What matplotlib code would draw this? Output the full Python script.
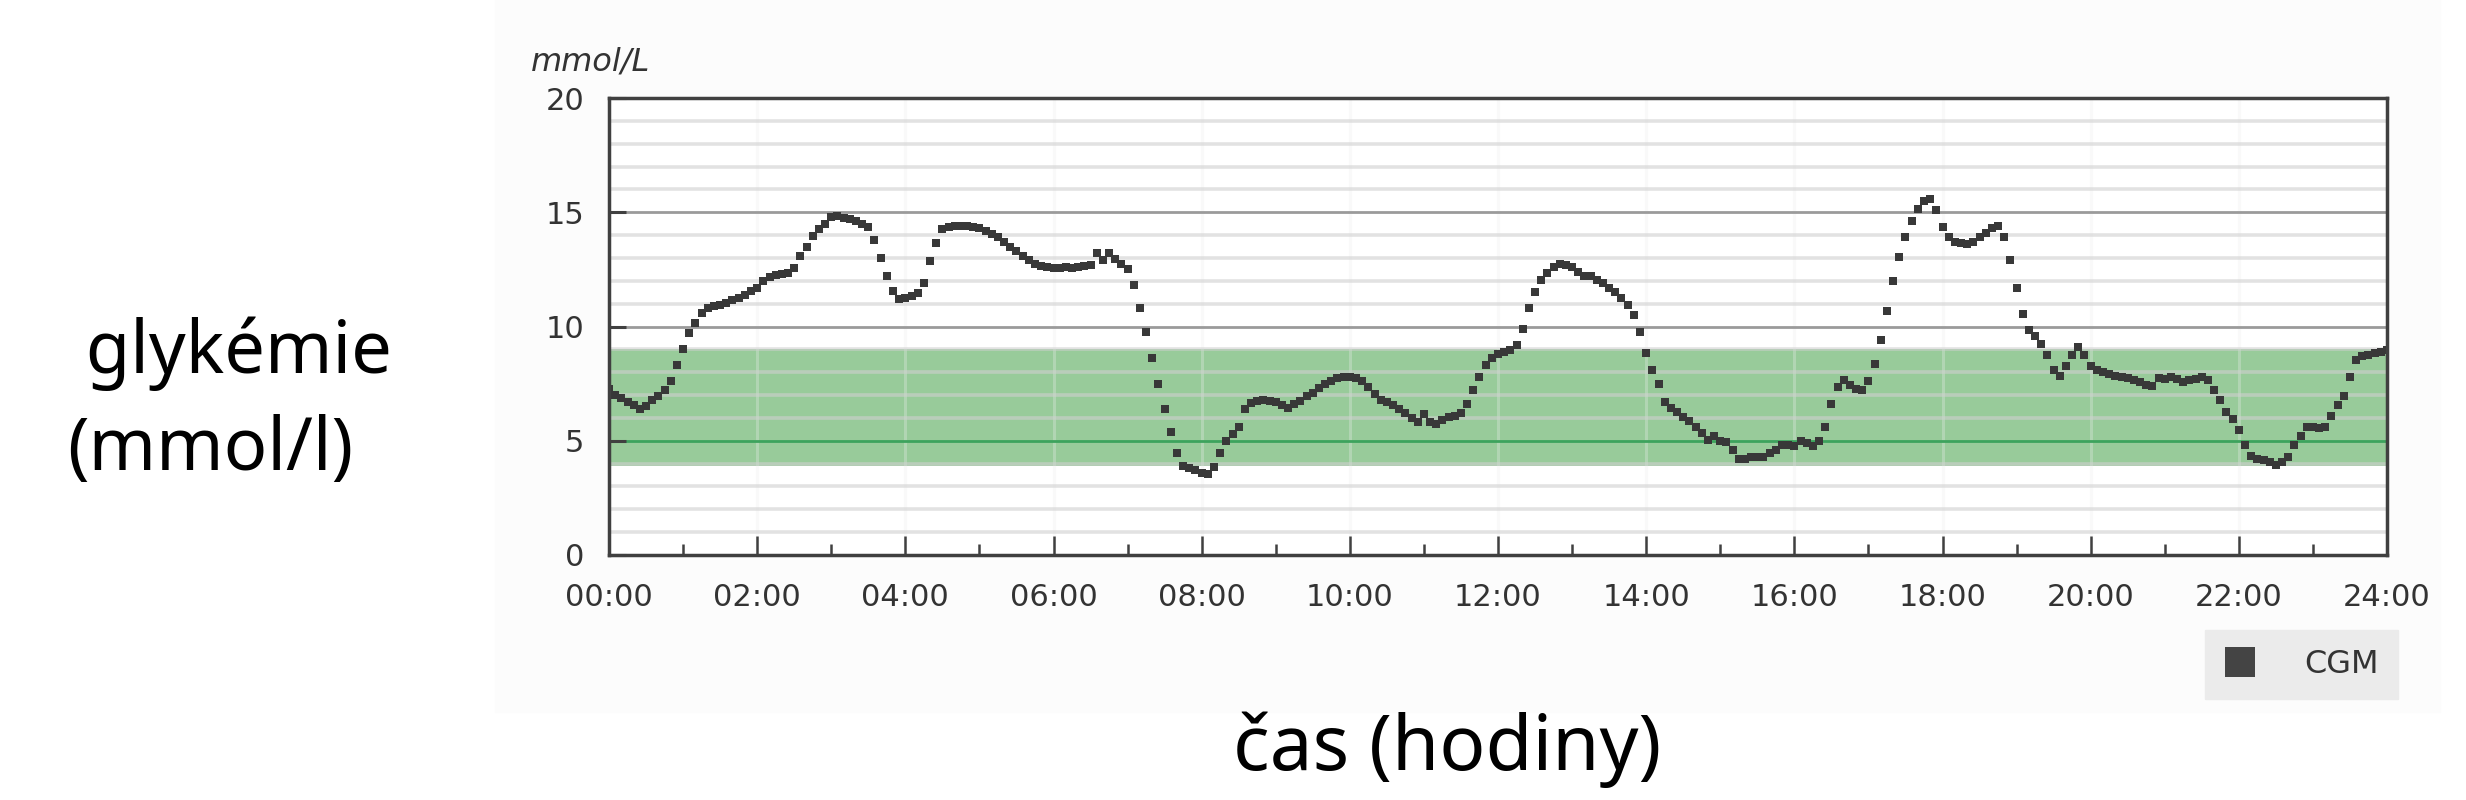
import numpy as np
import matplotlib
matplotlib.use("Agg")
import matplotlib.pyplot as plt
from matplotlib.lines import Line2D
from matplotlib.patches import Rectangle

# CGM readings, one row per hour, every 5 minutes (mmol/l)
glucose = [
    7.25, 7.0, 6.85, 6.7, 6.55, 6.4, 6.5, 6.8, 6.95, 7.2, 7.6, 8.3,          # 00
    9.0, 9.7, 10.15, 10.6, 10.8, 10.9, 10.95, 11.05, 11.15, 11.25, 11.4, 11.55,  # 01
    11.7, 12.0, 12.15, 12.25, 12.3, 12.35, 12.55, 13.1, 13.5, 13.95, 14.25, 14.5,  # 02
    14.8, 14.85, 14.75, 14.7, 14.6, 14.5, 14.35, 13.8, 13.0, 12.2, 11.55, 11.2,   # 03
    11.25, 11.35, 11.45, 11.9, 12.85, 13.65, 14.25, 14.35, 14.4, 14.4, 14.4, 14.35,  # 04
    14.3, 14.2, 14.05, 13.9, 13.7, 13.5, 13.3, 13.1, 12.9, 12.75, 12.65, 12.6,  # 05
    12.55, 12.55, 12.6, 12.55, 12.6, 12.65, 12.7, 13.2, 12.9, 13.2, 12.95, 12.75,  # 06
    12.5, 11.8, 10.8, 9.75, 8.6, 7.5, 6.4, 5.4, 4.45, 3.9, 3.8, 3.7,           # 07
    3.6, 3.55, 3.85, 4.45, 5.0, 5.3, 5.6, 6.4, 6.65, 6.75, 6.8, 6.75,         # 08
    6.7, 6.55, 6.45, 6.6, 6.75, 6.95, 7.1, 7.3, 7.5, 7.6, 7.75, 7.8,          # 09
    7.8, 7.75, 7.6, 7.35, 7.05, 6.8, 6.7, 6.55, 6.4, 6.2, 6.0, 5.8,           # 10
    6.15, 5.8, 5.75, 5.9, 6.05, 6.1, 6.2, 6.6, 7.2, 7.8, 8.3, 8.6,            # 11
    8.8, 8.9, 8.95, 9.2, 9.9, 10.8, 11.5, 12.05, 12.35, 12.6, 12.75, 12.7,    # 12
    12.6, 12.4, 12.2, 12.2, 12.05, 11.9, 11.7, 11.5, 11.25, 10.95, 10.5, 9.75,  # 13
    8.85, 8.1, 7.5, 6.7, 6.45, 6.25, 6.05, 5.85, 5.6, 5.35, 5.05, 5.2,        # 14
    5.0, 4.95, 4.6, 4.2, 4.2, 4.3, 4.3, 4.3, 4.45, 4.6, 4.8, 4.8,             # 15
    4.75, 5.0, 4.9, 4.75, 5.0, 5.6, 6.6, 7.35, 7.65, 7.45, 7.25, 7.2,         # 16
    7.6, 8.35, 9.4, 10.7, 12.0, 13.05, 13.9, 14.6, 15.15, 15.5, 15.6, 15.1,   # 17
    14.35, 13.9, 13.7, 13.65, 13.6, 13.7, 13.9, 14.1, 14.3, 14.4, 13.9, 12.9,  # 18
    11.7, 10.55, 9.85, 9.6, 9.25, 8.75, 8.1, 7.85, 8.25, 8.75, 9.1, 8.75,     # 19
    8.25, 8.1, 8.0, 7.9, 7.85, 7.8, 7.75, 7.65, 7.55, 7.45, 7.4, 7.75,        # 20
    7.7, 7.8, 7.7, 7.55, 7.65, 7.7, 7.8, 7.65, 7.2, 6.8, 6.25, 5.95,          # 21
    5.45, 4.8, 4.35, 4.2, 4.15, 4.05, 3.95, 4.05, 4.3, 4.8, 5.2, 5.6,         # 22
    5.6, 5.55, 5.6, 6.1, 6.55, 6.95, 7.8, 8.55, 8.7, 8.75, 8.85, 8.9,         # 23
    8.95,
]
target_low = 3.9
target_high = 9.0
hour_labels = [f"{h:02d}:00" for h in range(0, 25, 2)]

W, H = 2466, 800
fig = plt.figure(figsize=(W / 100, H / 100), dpi=100)
fig.patch.set_facecolor("white")

# very faint panel behind the chart
fig.patches.append(Rectangle((495 / W, 1 - 712 / H), (2440 - 495) / W, 712 / H,
                             transform=fig.transFigure, color="#fcfcfc", zorder=-5))

ax = fig.add_axes([609 / W, 245 / H, 1778 / W, 457 / H])
ax.set_facecolor("white")

times = np.arange(len(glucose)) * 5 / 60.0

# target range band
ax.axhspan(target_low, target_high, color="#98cb9a", zorder=1, lw=0)

ax.set_xlim(0, 24)
ax.set_ylim(0, 20)
ax.set_xticks(range(0, 25, 2))
ax.set_xticklabels(hour_labels)
ax.set_xticks(range(1, 24, 2), minor=True)
ax.set_yticks([0, 5, 10, 15, 20])
ax.set_yticks([v for v in range(1, 20) if v % 5], minor=True)

ax.set_axisbelow(False)
ax.yaxis.grid(True, which="minor", color="#d0d0d0", lw=2.6, alpha=0.6)
ax.yaxis.grid(True, which="major", color="#9a9a9a", lw=2.0)
ax.xaxis.grid(True, which="major", color="#eeeeee", lw=2.2, alpha=0.3)
for gl, v in zip(ax.get_ygridlines(), [0, 5, 10, 15, 20]):
    if v == 5:
        gl.set_color("#3da35d")
        gl.set_alpha(1)

ax.plot(times, glucose, ls="none", marker="s", ms=5.8, mew=0,
        color="#383838", zorder=3, label="CGM")

for s in ax.spines.values():
    s.set_color("#404040")
    s.set_linewidth(2.5)
    s.set_zorder(4)

ax.tick_params(axis="x", which="major", direction="in", length=14, width=1.8,
               color="#404040", pad=20, labelsize=22, labelcolor="#333333")
ax.tick_params(axis="x", which="minor", direction="in", length=8, width=1.8,
               color="#404040")
ax.tick_params(axis="y", which="major", direction="in", length=12, width=2.2,
               color="#404040", pad=18, labelsize=22, labelcolor="#333333")
ax.tick_params(axis="y", which="minor", length=0)

fig.text(531 / W, 1 - 71 / H, "mmol/L", fontsize=23, style="italic",
         color="#333333", va="baseline", ha="left")

handle = Line2D([], [], ls="none", marker="s", ms=21, mew=0, color="#444444", label="CGM")
leg = ax.legend(handles=[handle], loc="upper left",
                bbox_to_anchor=(2205 / W, 1 - 630 / H), bbox_transform=fig.transFigure,
                frameon=True, fancybox=False, facecolor="#ebebeb", edgecolor="#ebebeb",
                framealpha=1, fontsize=23, handlelength=1.0, handletextpad=1.5,
                borderpad=0.6, borderaxespad=0)
for t in leg.get_texts():
    t.set_color("#333333")

fig.text(67 / W, 1 - 373 / H, " glykémie", fontsize=52, family="Noto Sans",
         va="baseline", ha="left", color="black")
fig.text(67 / W, 1 - 470 / H, "(mmol/l)", fontsize=52, family="Noto Sans",
         va="baseline", ha="left", color="black")
fig.text(1447 / W, 1 - 770 / H, "čas (hodiny)", fontsize=55, family="Noto Sans",
         va="baseline", ha="center", color="black")

fig.savefig("out.png", dpi=100)
